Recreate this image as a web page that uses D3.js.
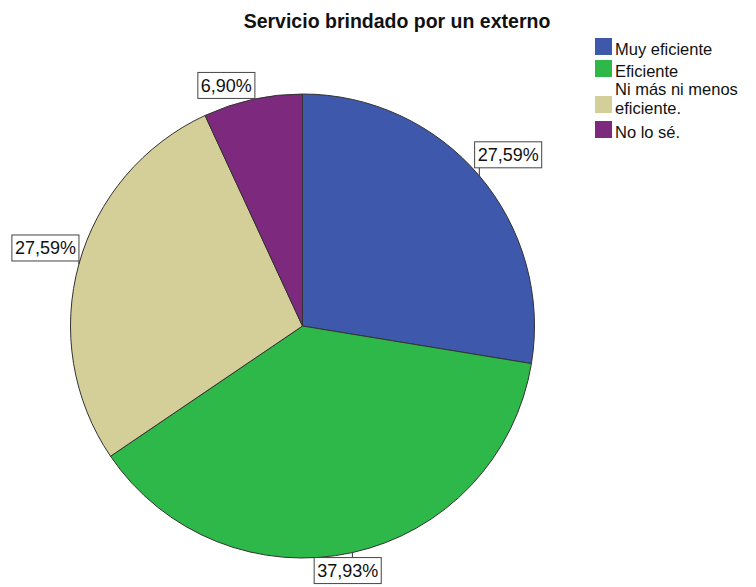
<!DOCTYPE html>
<html>
<head>
<meta charset="utf-8">
<script src="https://cdn.jsdelivr.net/npm/d3@7"></script>
<style>
  html, body { margin: 0; padding: 0; background: #fff; }
  svg { display: block; font-family: "Liberation Sans", Arial, sans-serif; }
</style>
</head>
<body>
<svg id="chart" width="756" height="587"></svg>
<script>
// Survey answers for "Servicio brindado por un externo"
const categories = ["Muy eficiente", "Eficiente", "Ni más ni menos eficiente.", "No lo sé."];
const legendLines = [["Muy eficiente"], ["Eficiente"], ["Ni más ni menos", "eficiente."], ["No lo sé."]];
const percents = [27.59, 37.93, 27.59, 6.90];
const colors = ["#3e58ab", "#2eb84a", "#d4ce98", "#7c297e"];
const title = "Servicio brindado por un externo";

const svg = d3.select("#chart");
const cx = 302.5, cy = 326, R = 232;

svg.append("text")
  .attr("x", 397).attr("y", 28)
  .attr("text-anchor", "middle")
  .attr("font-weight", "bold")
  .attr("font-size", 19.5)
  .attr("fill", "#111")
  .text(title);

const pie = d3.pie().sort(null).value(d => d)(percents);
const arc = d3.arc().innerRadius(0).outerRadius(R);

const g = svg.append("g").attr("transform", `translate(${cx},${cy})`);
g.selectAll("path.slice")
  .data(pie)
  .join("path")
  .attr("class", "slice")
  .attr("d", arc)
  .attr("fill", (d, i) => colors[i])
  .attr("stroke", "#333")
  .attr("stroke-width", 1);

// Label box placement relative to the point on the rim at each slice's mid-angle
const fmt = v => v.toFixed(2).replace(".", ",") + "%";
const boxOffsets = [
  { ax: 0.07, ay: 1, gx: 0, gy: -8 },   // above-right
  { ax: 0.57, ay: 0, gx: 0, gy: 5 },    // below
  { ax: 1, ay: 1, gx: 0, gy: -3 },      // above-left
  { ax: 0.96, ay: 1, gx: 0, gy: -1 }    // above-left, near top
];
const labels = svg.append("g");
pie.forEach((d, i) => {
  const a = (d.startAngle + d.endAngle) / 2;
  const px = cx + R * Math.sin(a), py = cy - R * Math.cos(a);
  const t = labels.append("text")
    .attr("font-size", 18)
    .attr("fill", "#111")
    .text(fmt(percents[i]));
  const bb = t.node().getBBox();
  const w = bb.width + 6, h = 26;
  const o = boxOffsets[i];
  const bx = px - o.ax * w + o.gx;
  const by = py - o.ay * h + o.gy;
  // leader line from rim to nearest box point
  const nx = Math.max(bx, Math.min(px, bx + w));
  const ny = Math.max(by, Math.min(py, by + h));
  labels.insert("line", "text")
    .attr("x1", px).attr("y1", py).attr("x2", nx).attr("y2", ny)
    .attr("stroke", "#333").attr("stroke-width", 1);
  labels.insert("rect", "text")
    .attr("x", bx).attr("y", by).attr("width", w).attr("height", h)
    .attr("fill", "#fff").attr("stroke", "#444").attr("stroke-width", 1);
  t.attr("x", bx + 3).attr("y", by + h / 2 + 6.5);
});

// Legend
const legendY = [38, 60, 96, 121];
const lg = svg.append("g");
categories.forEach((c, i) => {
  lg.append("rect")
    .attr("x", 595).attr("y", legendY[i])
    .attr("width", 17).attr("height", 17)
    .attr("fill", colors[i]);
  const t = lg.append("text")
    .attr("x", 615).attr("y", legendY[i] + 17)
    .attr("font-size", 16.5)
    .attr("fill", "#111");
  const lines = legendLines[i];
  const y0 = lines.length > 1 ? -18 : 0;
  lines.forEach((ln, k) => {
    t.append("tspan").attr("x", 615).attr("dy", k === 0 ? y0 : 19).text(ln);
  });
});
</script>
</body>
</html>
